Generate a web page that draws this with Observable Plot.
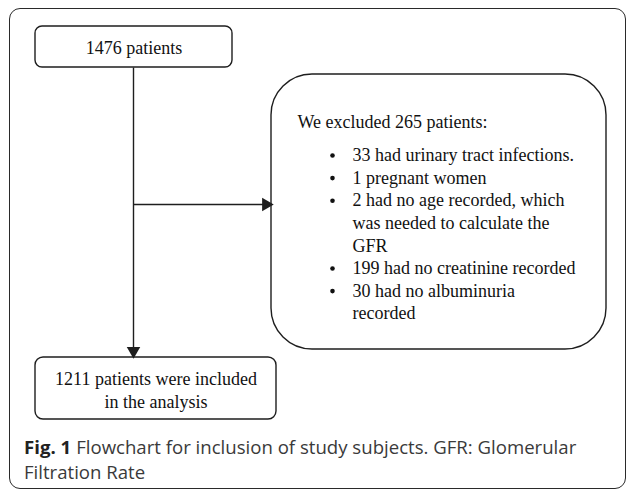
<!DOCTYPE html>
<html>
<head>
<meta charset="utf-8">
<script src="https://cdn.jsdelivr.net/npm/d3@7"></script>
<script src="https://cdn.jsdelivr.net/npm/@observablehq/plot@0.6"></script>
<style>
  html, body { margin: 0; padding: 0; background: #fff; }
  #wrap { position: relative; width: 627px; height: 490px; overflow: hidden; }
  #frame { position: absolute; left: 9px; top: 8px; width: 617px; height: 481px;
           box-sizing: border-box; border: 1.5px solid #2a2a2a; border-radius: 11px; }
  #chart { position: absolute; left: 0; top: 0; }
  #caption { position: absolute; left: 24px; top: 434px; width: 590px;
             font-family: "Open Sans", sans-serif; font-size: 18.6px; line-height: 25px; color: #3a3a3a; }
  #caption .line { white-space: nowrap; }
  #caption b { color: #222; margin-right: 5px; }
</style>
</head>
<body>
<div id="wrap">
  <div id="frame"></div>
  <div id="chart"></div>
  <div id="caption"></div>
</div>
<script>
// ---- content ----
const startLabel = "1476 patients";
const excludedHeader = "We excluded 265 patients:";
const exclusionItems = [
  "33 had urinary tract infections.",
  "1 pregnant women",
  "2 had no age recorded, which\nwas needed to calculate the\nGFR",
  "199 had no creatinine recorded",
  "30 had no albuminuria\nrecorded"
];
const includedLabel = "1211 patients were included\nin the analysis";
const captionLead = "Fig. 1";
const captionLines = ["Flowchart for inclusion of study subjects. GFR: Glomerular", "Filtration Rate"];

// ---- layout (diagram geometry, page units) ----
const W = 627, H = 430;
const boxes = [
  {id: "start",    x1: 35,  x2: 232, y1: 26,  y2: 67,  r: 7},
  {id: "excluded", x1: 271, x2: 606, y1: 74,  y2: 349, r: 41},
  {id: "included", x1: 35,  x2: 276, y1: 357, y2: 419, r: 8}
];
const connectors = [
  {x1: 133, y1: 67,  x2: 133, y2: 348},
  {x1: 133, y1: 204, x2: 263, y2: 204}
];
const heads = [
  {x: 133, y: 350.5, rot: 180},
  {x: 265.5, y: 204, rot: 90}
];
const listLeft = 352, bulletX = 332, listTop = 155, lineStep = 22.6;

// expand items into lines
const listLines = [];
exclusionItems.forEach((item, i) => {
  item.split("\n").forEach((t, j) => listLines.push({item: i, first: j === 0, text: t}));
});
listLines.forEach((d, k) => d.k = k);

const serif = "'Liberation Serif', 'Times New Roman', serif";
const ink = "#1e1e1e";
const fs = 18;

const plot = Plot.plot({
  width: W, height: H,
  margin: 0,
  x: {domain: [0, W], range: [0, W], axis: null},
  y: {domain: [0, H], range: [0, H], axis: null},
  style: {background: "transparent"},
  marks: [
    ...boxes.map(b => Plot.rect([b], {x1: "x1", x2: "x2", y1: "y1", y2: "y2", rx: b.r, ry: b.r,
      fill: "white", stroke: ink, strokeWidth: 1.4})),
    Plot.link(connectors, {x1: "x1", y1: "y1", x2: "x2", y2: "y2", stroke: ink, strokeWidth: 1.4}),
    Plot.dot(heads, {x: "x", y: "y", symbol: "triangle", rotate: "rot", r: 5, fill: ink, stroke: "none"}),
    Plot.text([startLabel], {x: () => (boxes[0].x1 + boxes[0].x2) / 2, y: () => (boxes[0].y1 + boxes[0].y2) / 2 + 1,
      text: d => d, fontFamily: serif, fontSize: fs, fill: "#111"}),
    Plot.text([includedLabel], {x: () => (boxes[2].x1 + boxes[2].x2) / 2, y: () => (boxes[2].y1 + boxes[2].y2) / 2 + 1,
      text: d => d, fontFamily: serif, fontSize: fs, lineHeight: 1.27, fill: "#111"}),
    Plot.text([excludedHeader], {x: boxes[1].x1 + 26, y: 122, text: d => d, textAnchor: "start",
      fontFamily: serif, fontSize: fs, fill: "#111"}),
    Plot.dot(listLines.filter(d => d.first), {x: bulletX, y: d => listTop + d.k * lineStep, r: 2.3, fill: "#111", stroke: "none"}),
    Plot.text(listLines, {x: listLeft, y: d => listTop + d.k * lineStep, text: "text", textAnchor: "start",
      fontFamily: serif, fontSize: fs, fill: "#111"})
  ]
});
document.getElementById("chart").appendChild(plot);
document.getElementById("caption").innerHTML =
  `<div class="line"><b>${captionLead}</b><span>${captionLines[0]}</span></div>` +
  `<div class="line"><span>${captionLines[1]}</span></div>`;
</script>
</body>
</html>
